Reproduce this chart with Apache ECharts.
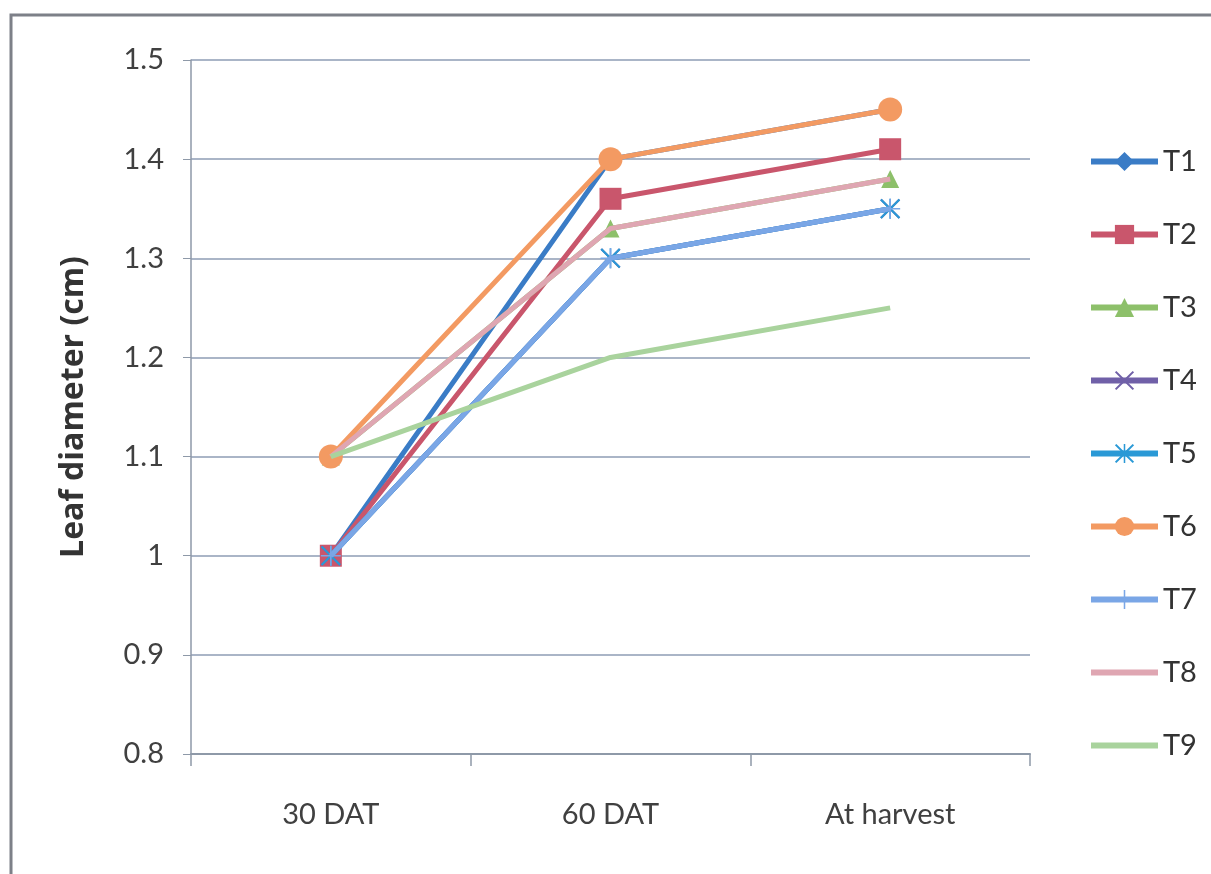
<!DOCTYPE html>
<html>
<head>
<meta charset="utf-8">
<script src="https://cdn.jsdelivr.net/npm/echarts@6/dist/echarts.min.js"></script>
<style>
  html, body { margin: 0; padding: 0; background: #fff; }
  #chart { width: 1211px; height: 874px; }
</style>
</head>
<body>
<div id="chart"></div>
<script>
// Sampling stages
const categories = ['30 DAT', '60 DAT', 'At harvest'];

// Leaf diameter (cm) per treatment
const T1 = [1.00, 1.40, 1.45];
const T2 = [1.00, 1.36, 1.41];
const T3 = [1.10, 1.33, 1.38];
const T4 = [1.00, 1.30, 1.35];
const T5 = [1.00, 1.30, 1.35];
const T6 = [1.10, 1.40, 1.45];
const T7 = [1.00, 1.30, 1.35];
const T8 = [1.10, 1.33, 1.38];
const T9 = [1.10, 1.20, 1.25];

const yTicks = { min: 0.8, max: 1.5, step: 0.1 };

const crossPath = 'path://M0,1.5 L1.5,0 L10,8.5 L18.5,0 L20,1.5 L11.5,10 L20,18.5 L18.5,20 L10,11.5 L1.5,20 L0,18.5 L8.5,10 Z';
const starPath = 'path://M0,1.5 L1.5,0 L9.2,7.7 L9.2,0 L10.8,0 L10.8,7.7 L18.5,0 L20,1.5 L11.5,10 L20,18.5 L18.5,20 L10.8,12.3 L10.8,20 L9.2,20 L9.2,12.3 L1.5,20 L0,18.5 L8.5,10 Z';
const plusPath = 'path://M9.2,0 H10.8 V9.2 H20 V10.8 H10.8 V20 H9.2 V10.8 H0 V9.2 H9.2 Z';

const seriesDefs = [
  { name: 'T1', data: T1, color: '#3A7CC6', symbol: 'diamond', size: 20 },
  { name: 'T2', data: T2, color: '#C9566C', symbol: 'rect', size: 22 },
  { name: 'T3', data: T3, color: '#8DC06A', symbol: 'triangle', size: 18 },
  { name: 'T4', data: T4, color: '#7060A8', symbol: crossPath, size: 20 },
  { name: 'T5', data: T5, color: '#2A99D6', symbol: starPath, size: 20 },
  { name: 'T6', data: T6, color: '#F39A62', symbol: 'circle', size: 24 },
  { name: 'T7', data: T7, color: '#7AA6E6', symbol: plusPath, size: 20 },
  { name: 'T8', data: T8, color: '#DFA6B2', symbol: 'none', size: 0 },
  { name: 'T9', data: T9, color: '#A9D39D', symbol: 'none', size: 0 }
];

const chart = echarts.init(document.getElementById('chart'));

const labelFont = "Lato, 'Open Sans', sans-serif";

chart.setOption({
  backgroundColor: '#ffffff',
  animation: false,
  graphic: [{
    type: 'rect',
    shape: { x: 11, y: 15, width: 1240, height: 900 },
    style: { fill: 'none', stroke: '#7d8088', lineWidth: 3 },
    silent: true,
    z: 0
  }],
  grid: { left: 191, right: 181, top: 60, bottom: 120, containLabel: false },
  legend: {
    orient: 'vertical',
    left: 1083,
    top: 142,
    itemWidth: 67,
    itemHeight: 24,
    itemGap: 44,
    lineStyle: { width: 6 },
    textStyle: { fontFamily: labelFont, fontSize: 29, lineHeight: 24, color: '#333333' },
    data: seriesDefs.map(s => s.symbol === 'none'
      ? { name: s.name, itemStyle: { opacity: 0 } }
      : { name: s.name })
  },
  xAxis: {
    type: 'category',
    data: categories,
    boundaryGap: true,
    axisLine: { show: true, lineStyle: { color: '#8e99a8', width: 2 } },
    axisTick: { show: true, length: 12, lineStyle: { color: '#8e99a8', width: 1.5 } },
    axisLabel: { fontFamily: labelFont, fontSize: 29, color: '#404040', margin: 46 },
    splitLine: { show: false }
  },
  yAxis: {
    type: 'value',
    min: yTicks.min,
    max: yTicks.max,
    interval: yTicks.step,
    name: 'Leaf diameter (cm)',
    nameLocation: 'middle',
    nameGap: 101,
    nameRotate: 90,
    nameTextStyle: { fontFamily: "'Open Sans', sans-serif", fontSize: 32, fontWeight: 'bold', color: '#333333' },
    axisLine: { show: true, lineStyle: { color: '#8e99a8', width: 1.5 } },
    axisTick: { show: true, length: 8, lineStyle: { color: '#8e99a8' } },
    axisLabel: {
      fontFamily: labelFont, fontSize: 29, color: '#404040', margin: 27,
      formatter: v => String(Math.round(v * 10) / 10)
    },
    splitLine: { show: true, lineStyle: { color: '#8e9db4', width: 1.5 } }
  },
  series: seriesDefs.map((s, i) => ({
    name: s.name,
    type: 'line',
    data: s.data,
    symbol: s.symbol,
    symbolSize: s.size,
    showSymbol: s.symbol !== 'none',
    color: s.color,
    lineStyle: { color: s.color, width: 5 },
    itemStyle: { color: s.color },
    emphasis: { disabled: true },
    z: 2 + i
  }))
});
</script>
</body>
</html>
